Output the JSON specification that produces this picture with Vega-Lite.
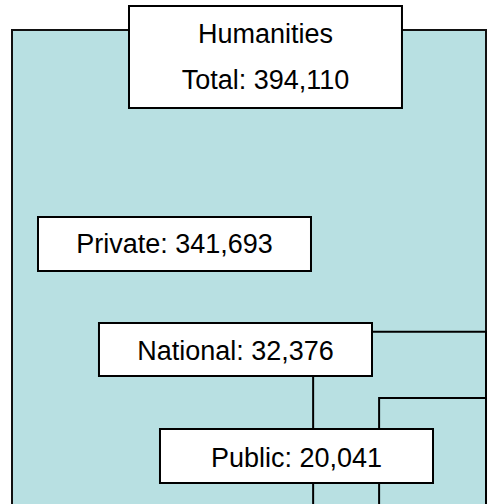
{
  "$schema": "https://vega.github.io/schema/vega-lite/v6.json",
  "width": 494,
  "height": 504,
  "autosize": "none",
  "padding": 0,
  "background": "white",
  "config": {"view": {"stroke": null}},
  "datasets": {
    "regions": [
      {"node": "Humanities", "value": 394110, "x0": 0, "x1": 627.79, "y0": 0, "y1": 627.79},
      {"node": "National + Public", "value": 52417, "x0": 398.84, "x1": 627.79, "y0": 0, "y1": 228.95},
      {"node": "Public", "value": 20041, "x0": 486.22, "x1": 627.79, "y0": 0, "y1": 141.57}
    ],
    "boxes": [
      {"node": "Humanities", "bx0": 154.96, "bx1": 516.5, "by0": 524.7, "by1": 659.5},
      {"node": "Private", "bx0": 34.44, "bx1": 396.0, "by0": 309.3, "by1": 380.6},
      {"node": "National", "bx0": 115.2, "bx1": 476.8, "by0": 170.5, "by1": 240.5},
      {"node": "Public", "bx0": 196.0, "bx1": 557.6, "by0": 29.1, "by1": 100.4}
    ],
    "texts": [
      {"label": "Humanities", "tx": 335.7, "ty": 610.6},
      {"label": "Total: 394,110", "tx": 335.7, "ty": 549.8},
      {"label": "Private: 341,693", "tx": 215.2, "ty": 333.1},
      {"label": "National: 32,376", "tx": 296.0, "ty": 191.6},
      {"label": "Public: 20,041", "tx": 376.8, "ty": 50.2}
    ]
  },
  "layer": [
    {
      "data": {"name": "regions"},
      "transform": [{"filter": "datum.node === 'Humanities'"}],
      "mark": {"type": "rect", "fill": "#B8E0E2", "stroke": "#111111", "strokeWidth": 2},
      "encoding": {
        "x": {"field": "x0", "type": "quantitative", "axis": null, "scale": {"domain": [-15.89, 638.38], "nice": false, "zero": false}},
        "x2": {"field": "x1"},
        "y": {"field": "y0", "type": "quantitative", "axis": null, "scale": {"domain": [1.32, 667.43], "nice": false, "zero": false}},
        "y2": {"field": "y1"}
      }
    },
    {
      "data": {"name": "regions"},
      "transform": [{"filter": "datum.node !== 'Humanities'"}],
      "mark": {"type": "rect", "fill": "transparent", "stroke": "#000000", "strokeWidth": 2},
      "encoding": {
        "x": {"field": "x0", "type": "quantitative", "axis": null},
        "x2": {"field": "x1"},
        "y": {"field": "y0", "type": "quantitative", "axis": null},
        "y2": {"field": "y1"}
      }
    },
    {
      "data": {"name": "boxes"},
      "mark": {"type": "rect", "fill": "white", "stroke": "#000000", "strokeWidth": 2},
      "encoding": {
        "x": {"field": "bx0", "type": "quantitative", "axis": null},
        "x2": {"field": "bx1"},
        "y": {"field": "by0", "type": "quantitative", "axis": null},
        "y2": {"field": "by1"}
      }
    },
    {
      "data": {"name": "texts"},
      "mark": {"type": "text", "font": "Liberation Sans", "fontSize": 27, "color": "#000000", "align": "center", "baseline": "alphabetic"},
      "encoding": {
        "x": {"field": "tx", "type": "quantitative", "axis": null},
        "y": {"field": "ty", "type": "quantitative", "axis": null},
        "text": {"field": "label"}
      }
    }
  ]
}
